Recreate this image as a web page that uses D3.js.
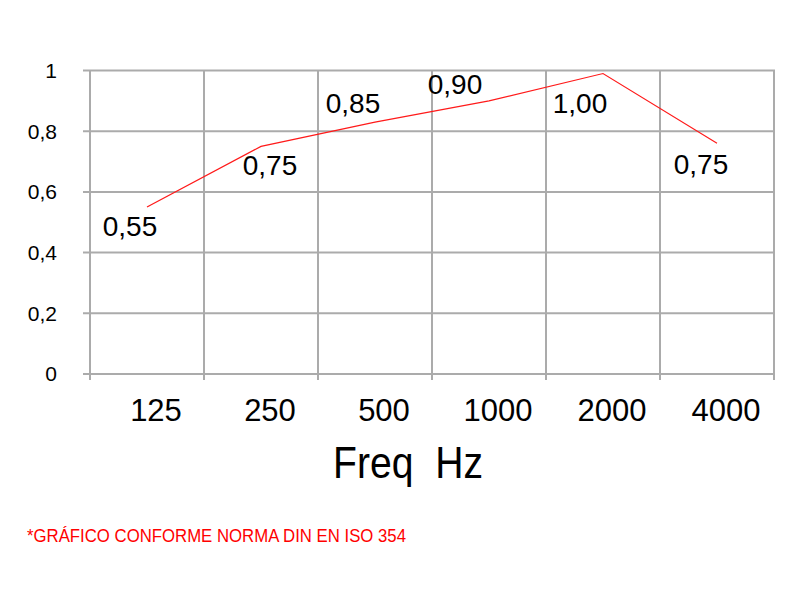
<!DOCTYPE html>
<html>
<head>
<meta charset="utf-8">
<script src="https://cdn.jsdelivr.net/npm/d3@7"></script>
<style>
  body { margin: 0; background: #fff; }
  text { font-family: "Liberation Sans", Arial, sans-serif; }
</style>
</head>
<body>
<script>
// chart data
var freqs = ["125", "250", "500", "1000", "2000", "4000"];
var absorption = [0.55, 0.75, 0.83, 0.90, 0.99, 0.76];
var valueLabels = ["0,55", "0,75", "0,85", "0,90", "1,00", "0,75"];
var yTicks = [0, 0.2, 0.4, 0.6, 0.8, 1];
var yTickLabels = ["0", "0,2", "0,4", "0,6", "0,8", "1"];

// label nudges (layout only), dx / dy from the point
var labelNudge = [[-17, 29], [9, 29], [-22, -9], [-34, -7], [-23, 39], [-16, 31]];

var width = 800,
    height = 600;

var svg = d3.select("body")
    .append("svg")
    .attr("width", width)
    .attr("height", height);

var x = d3.scaleBand()
    .domain(freqs)
    .range([90, 774]);

var y = d3.scaleLinear()
    .domain([0, 1])
    .range([374, 70.5]);

var grid = "#ababab";

//horizontal gridlines
svg.selectAll(".hgrid")
    .data(yTicks)
    .enter()
    .append("line")
    .attr("class", "hgrid")
    .attr("x1", 83)
    .attr("x2", 775)
    .attr("y1", function(d){ return y(d); })
    .attr("y2", function(d){ return y(d); })
    .attr("stroke", grid)
    .attr("stroke-width", 2);

//vertical gridlines at band edges
var edges = freqs.map(function(f){ return x(f); }).concat([x.range()[1]]);
svg.selectAll(".vgrid")
    .data(edges)
    .enter()
    .append("line")
    .attr("class", "vgrid")
    .attr("x1", function(d){ return d; })
    .attr("x2", function(d){ return d; })
    .attr("y1", y(1))
    .attr("y2", y(0) + 6)
    .attr("stroke", grid)
    .attr("stroke-width", 2);

//y tick labels
svg.selectAll(".ylab")
    .data(yTicks)
    .enter()
    .append("text")
    .attr("class", "ylab")
    .attr("x", 57)
    .attr("y", function(d){ return y(d); })
    .attr("dy", "0.35em")
    .attr("text-anchor", "end")
    .attr("font-size", 21)
    .text(function(d, i){ return yTickLabels[i]; });

//x tick labels
svg.selectAll(".xlab")
    .data(freqs)
    .enter()
    .append("text")
    .attr("class", "xlab")
    .attr("x", function(d){ return x(d) + x.bandwidth() / 2 + 9; })
    .attr("y", 421)
    .attr("text-anchor", "middle")
    .attr("font-size", 31)
    .text(function(d){ return d; });

//axis title
svg.append("text")
    .attr("x", 408)
    .attr("y", 478)
    .attr("text-anchor", "middle")
    .attr("font-size", 44)
    .attr("textLength", 150)
    .attr("lengthAdjust", "spacingAndGlyphs")
    .style("white-space", "pre")
    .text("Freq  Hz");

//absorption line
var line = d3.line()
    .x(function(d, i){ return x(freqs[i]) + x.bandwidth() / 2; })
    .y(function(d){ return y(d); });

svg.append("path")
    .datum(absorption)
    .attr("d", line)
    .attr("fill", "none")
    .attr("stroke", "#ff1a1a")
    .attr("stroke-width", 1.2);

//value labels
svg.selectAll(".vlab")
    .data(absorption)
    .enter()
    .append("text")
    .attr("class", "vlab")
    .attr("x", function(d, i){ return x(freqs[i]) + x.bandwidth() / 2 + labelNudge[i][0]; })
    .attr("y", function(d, i){ return y(d) + labelNudge[i][1]; })
    .attr("text-anchor", "middle")
    .attr("font-size", 28)
    .text(function(d, i){ return valueLabels[i]; });

//footnote
svg.append("text")
    .attr("x", 27)
    .attr("y", 542)
    .attr("font-size", 18)
    .attr("fill", "#ff0000")
    .attr("textLength", 379)
    .attr("lengthAdjust", "spacingAndGlyphs")
    .text("*GRÁFICO CONFORME NORMA DIN EN ISO 354");
</script>
</body>
</html>
